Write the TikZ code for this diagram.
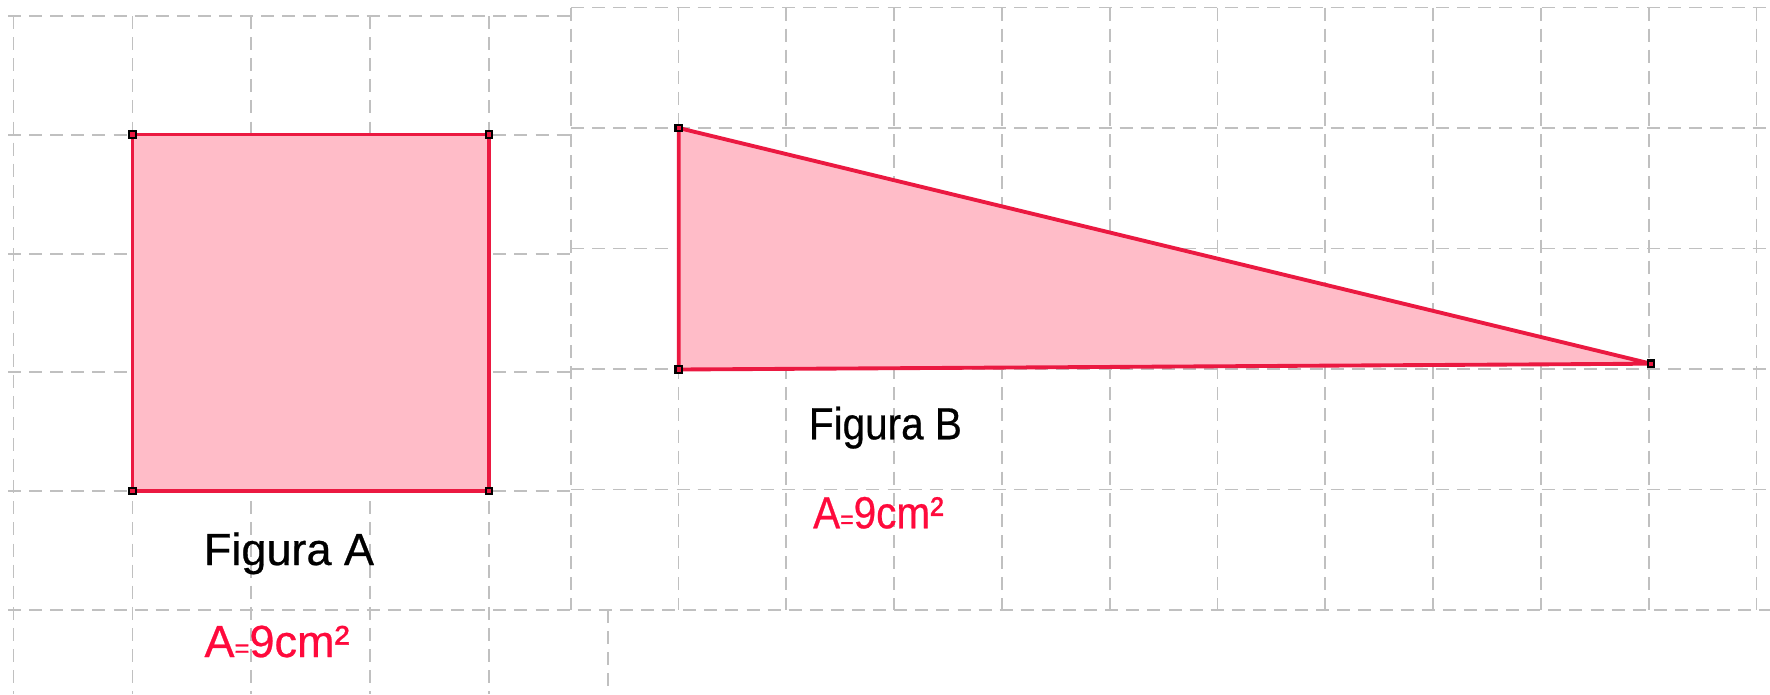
\documentclass[tikz,border=0pt]{standalone}
\usepackage{fontspec}
\setmainfont{Liberation Sans}
\newfontfamily\labelfont{Liberation Sans}[FakeBold=0.6]
\definecolor{gridgray}{RGB}{192,192,192}
\definecolor{edgered}{RGB}{235,25,65}
\definecolor{fillpink}{RGB}{255,188,200}
\definecolor{textred}{RGB}{255,10,60}
\newcommand{\areatext}{A{\fontsize{7.3}{8}\selectfont =}9cm²}

\begin{document}
\begin{tikzpicture}[x=0.01cm, y=-0.01cm,
  gridline/.style={gridgray, line width=0.55pt, dash pattern=on 3.7pt off 2.3pt},
  figshape/.style={draw=edgered, fill=fillpink, line width=1.1pt, line join=round},
  vtx/.style={rectangle, draw=black, fill=edgered, line width=0.6pt, minimum size=1.8pt, inner sep=0pt},
  title/.style={font=\labelfont\fontsize{12.8}{15}\selectfont, anchor=base, inner sep=0pt},
  area/.style={title, text=textred}]
\useasboundingbox (0,0) rectangle (1770,694);

% Grid of figure A
\foreach \y in {16,135,253.7,372.3,491}
  \draw[gridline] (8,\y) -- (571,\y);
\foreach \x in {13.5,132.5,251.3,370.1,489}
  \draw[gridline] (\x,16) -- (\x,694);
\draw[gridline] (608,610) -- (608,694);

% Grid of figure B
\foreach \k in {0,...,11}
  \draw[gridline] (570.7+107.8*\k,7.5) -- (570.7+107.8*\k,610);
\foreach \y in {7.5,128,248.5,369,489.5}
  \draw[gridline] (571,\y) -- (1770,\y);
\draw[gridline] (8,610) -- (1770,610);

% Figure A
\coordinate (a1) at (132.5,134.5);
\coordinate (a2) at (489,134.5);
\coordinate (a3) at (489,491);
\coordinate (a4) at (132.5,491);
\filldraw[figshape] (a1) -- (a2) -- (a3) -- (a4) -- cycle;

% Figure B
\coordinate (b1) at (678.7,128);
\coordinate (b2) at (678.7,369.5);
\coordinate (b3) at (1651,363.7);
\filldraw[figshape] (b1) -- (b2) -- (b3) -- cycle;

\foreach \v in {a1,a2,a3,a4,b1,b2,b3}
  \node[vtx] (\v dot) at (\v) {};

% Labels
\node[title] (titleA) at (289,565) {Figura A};
\node[area] (areaA) at (277,657) {\areatext};
\node[title] (titleB) at (885.4,439.3) {\scalebox{0.9}[1]{Figura B}};
\node[area] (areaB) at (878.4,528.3) {\scalebox{0.9}[1]{\areatext}};
\end{tikzpicture}
\end{document}
